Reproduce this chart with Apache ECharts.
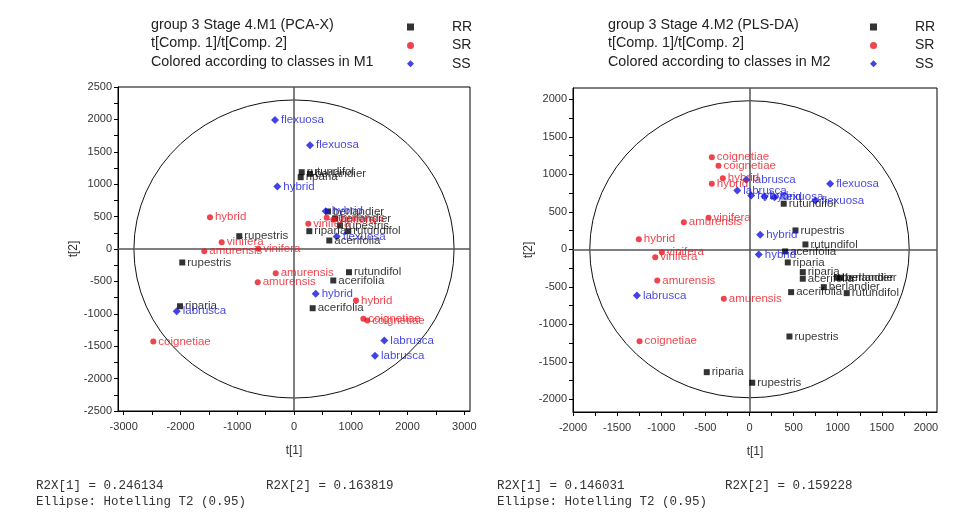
<!DOCTYPE html>
<html><head><meta charset="utf-8">
<script src="https://cdn.jsdelivr.net/npm/echarts@6/dist/echarts.min.js"></script>
<style>html,body{margin:0;padding:0;background:#fff}#c{width:966px;height:521px}</style>
</head><body><div id="c"></div><script>
// ---------- M1 (PCA-X) ----------
const m1RR_names = ['rutundifol','berlandier','riparia','berlandier','berlandier','rupestris','rupestris','rupestris','riparia','riparia','rutundifol','acerifolia','rutundifol','acerifolia','acerifolia'];
const m1RR_x = [136, 282, 118, 599, 722, 810, -964, -1968, -2008, 270, 956, 622, 969, 692, 329];
const m1RR_y = [1185, 1160, 1108, 579, 471, 363, 198, -208, -883, 275, 275, 131, -358, -486, -914];

const m1SR_names = ['hybrid','vinifera','amurensis','vinifera','amurensis','amurensis','coignetiae','vinifera','amurensis','vinifera','hybrid','coignetiae','coignetiae'];
const m1SR_x = [-1480, -1274, -1580, -629, -322, -639, -2478, 252, 576, 692, 1092, 1221, 1291];
const m1SR_y = [491, 105, -34, 3, -373, -512, -1427, 389, 481, 455, -795, -1077, -1103];

const m1SS_names = ['flexuosa','flexuosa','hybrid','hybrid','flexuosa','hybrid','labrusca','labrusca','labrusca'];
const m1SS_x = [-335, 282, -294, 558, 752, 382, 1591, 1427, -2066];
const m1SS_y = [1990, 1602, 965, 583, 193, -691, -1412, -1648, -960];

// ---------- M2 (PLS-DA) ----------
const m2RR_names = ['rutundifol','rupestris','rutundifol','acerifolia','riparia','riparia','acerifolia','berlandier','berlandier','berlandier','acerifolia','rutundifol','rupestris','riparia','rupestris'];
const m2RR_x = [388, 521, 634, 404, 434, 604, 604, 993, 1031, 842, 472, 1102, 453, -484, 31];
const m2RR_y = [607, 251, 64, -29, -176, -305, -393, -380, -380, -505, -572, -585, -1163, -1639, -1780];

const m2SR_names = ['coignetiae','coignetiae','hybrid','hybrid','vinifera','amurensis','hybrid','vinifera','vinifera','amurensis','amurensis','coignetiae'];
const m2SR_x = [-427, -351, -302, -427, -464, -744, -1254, -993, -1068, -1045, -291, -1246];
const m2SR_y = [1228, 1113, 948, 873, 420, 361, 135, -39, -105, -416, -660, -1225];

const m2SS_names = ['labrusca','labrusca','hybrid','hybrid','flexuosa','flexuosa','flexuosa','hybrid','hybrid','labrusca'];
const m2SS_x = [-37, -139, 19, 170, 283, 747, 914, 121, 105, -1276];
const m2SS_y = [927, 784, 717, 704, 695, 651, 873, 193, -69, -616];

// ---------- ticks / labels ----------
const m1XLabels = [-3000,-2000,-1000,0,1000,2000,3000];
const m1XTicks = [-3000,-2500,-2000,-1500,-1000,-500,0,500,1000,1500,2000,2500,3000];
const m1YLabels = [-2500,-2000,-1500,-1000,-500,0,500,1000,1500,2000,2500];
const m1YTicks = [-2500,-2250,-2000,-1750,-1500,-1250,-1000,-750,-500,-250,0,250,500,750,1000,1250,1500,1750,2000,2250,2500];
const m2XLabels = [-2000,-1500,-1000,-500,0,500,1000,1500,2000];
const m2XTicks = [-2000,-1750,-1500,-1250,-1000,-750,-500,-250,0,250,500,750,1000,1250,1500,1750,2000];
const m2YLabels = [-2000,-1500,-1000,-500,0,500,1000,1500,2000];
const m2YTicks = [-2000,-1750,-1500,-1250,-1000,-750,-500,-250,0,250,500,750,1000,1250,1500,1750,2000];

// Hotelling T2 ellipse semi-axes (t units)
const m1Ellipse = [2820, 2300];
const m2Ellipse = [1810, 1980];

// header / footer texts
const m1Header = ['group 3 Stage 4.M1 (PCA-X)','t[Comp. 1]/t[Comp. 2]','Colored according to classes in M1'];
const m2Header = ['group 3 Stage 4.M2 (PLS-DA)','t[Comp. 1]/t[Comp. 2]','Colored according to classes in M2'];
const m1Footer = ['R2X[1] = 0.246134','R2X[2] = 0.163819','Ellipse: Hotelling T2 (0.95)'];
const m2Footer = ['R2X[1] = 0.146031','R2X[2] = 0.159228','Ellipse: Hotelling T2 (0.95)'];

const FONT = "'Liberation Sans', Arial, sans-serif";
const MONO = "'Liberation Mono', 'DejaVu Sans Mono', monospace";
const C_RR = '#000000', C_SR = '#ea1520', C_SS = '#1414dc';

function pts(names, xs, ys){ return names.map((n,i)=>[xs[i], ys[i], n]); }

function scatter(name, data, gi, symbol, size, color){
  return {
    type:'scatter', name, xAxisIndex:gi, yAxisIndex:gi, data, symbol, symbolSize:size,
    itemStyle:{color}, z:5, emphasis:{disabled:true},
    label:{show:true, position:'right', distance:2, formatter:(p)=>p.value[2], color, fontSize:11.5, fontFamily:FONT}
  };
}

function ellipse(gi, ab){
  return {
    type:'custom', xAxisIndex:gi, yAxisIndex:gi, data:[[0,0]], silent:true, z:2,
    renderItem:(params, api)=>{
      const c = api.coord([0,0]);
      const s = api.size([ab[0], ab[1]]);
      const rx = s[0], ry = s[1];
      const d = `M ${c[0]-rx} ${c[1]} A ${rx} ${ry} 0 1 0 ${c[0]+rx} ${c[1]} A ${rx} ${ry} 0 1 0 ${c[0]-rx} ${c[1]} Z`;
      return {type:'path', shape:{pathData:d}, style:{fill:'none', stroke:'#111', lineWidth:1}};
    }
  };
}

function zeroLines(gi){
  return {
    type:'scatter', xAxisIndex:gi, yAxisIndex:gi, data:[], silent:true, z:3,
    markLine:{silent:true, symbol:['none','none'], label:{show:false},
      lineStyle:{color:'#555', width:1.5, type:'solid'}, data:[{xAxis:0},{yAxis:0}], animation:false}
  };
}

const plain = (v)=>String(v);

function xAx(gi, min, max, labels, ticks){
  return {gridIndex:gi, type:'value', min, max,
    axisLine:{show:true, onZero:false, lineStyle:{color:'#000', width:1}},
    axisTick:{show:true, length:4, customValues:ticks, lineStyle:{color:'#000'}},
    axisLabel:{customValues:labels, formatter:plain, fontSize:11, color:'#333', fontFamily:FONT, margin:10},
    splitLine:{show:false},
    name:'t[1]', nameLocation:'middle', nameGap:34, nameTextStyle:{fontSize:12, color:'#333', fontFamily:FONT}};
}
function yAx(gi, min, max, labels, ticks, gap){
  return {gridIndex:gi, type:'value', min, max,
    axisLine:{show:true, onZero:false, lineStyle:{color:'#000', width:1}},
    axisTick:{show:true, length:4, customValues:ticks, lineStyle:{color:'#000'}},
    axisLabel:{customValues:labels, formatter:plain, fontSize:11, color:'#333', fontFamily:FONT, margin:6},
    splitLine:{show:false},
    name:'t[2]', nameLocation:'middle', nameGap:gap, nameTextStyle:{fontSize:12, color:'#333', fontFamily:FONT}};
}

function legend(left){
  return {orient:'vertical', left, top:14, itemWidth:7, itemHeight:7, itemGap:2.4, selectedMode:false,
    textStyle:{fontSize:14, lineHeight:16, color:'#222', fontFamily:FONT, padding:[0,0,0,33]},
    data:[{name:'RR', icon:'rect'},{name:'SR', icon:'circle'},{name:'SS', icon:'diamond'}]};
}

const graphics = [];
[[m1Header,151],[m2Header,608]].forEach(([lines,x])=>{
  lines.forEach((t,i)=>graphics.push({type:'text', left:x, top:18+i*18.4,
    style:{text:t, font:`14.3px ${FONT}`, fill:'#222'}}));
});
[[m1Footer,36,266],[m2Footer,497,725]].forEach(([lines,x1,x2])=>{
  graphics.push({type:'text', left:x1, top:479, style:{text:lines[0], font:`12.5px ${MONO}`, fill:'#333'}});
  graphics.push({type:'text', left:x2, top:479, style:{text:lines[1], font:`12.5px ${MONO}`, fill:'#333'}});
  graphics.push({type:'text', left:x1, top:495, style:{text:lines[2], font:`12.5px ${MONO}`, fill:'#333'}});
});

const chart = echarts.init(document.getElementById('c'), null, {renderer:'canvas'});
chart.setOption({
  animation:false,
  backgroundColor:'#fff',
  textStyle:{fontFamily:FONT},
  legend:[legend(402), legend(865)],
  grid:[
    {left:118, top:87, width:352, height:324, show:true, borderColor:'#000', borderWidth:1},
    {left:573, top:88, width:364, height:324, show:true, borderColor:'#000', borderWidth:1}
  ],
  xAxis:[xAx(0,-3100,3100,m1XLabels,m1XTicks), xAx(1,-2000,2125,m2XLabels,m2XTicks)],
  yAxis:[yAx(0,-2500,2500,m1YLabels,m1YTicks,28), yAx(1,-2170,2150,m2YLabels,m2YTicks,27)],
  graphic:graphics,
  series:[
    ellipse(0, m1Ellipse), zeroLines(0),
    scatter('RR', pts(m1RR_names,m1RR_x,m1RR_y), 0, 'rect', 6, C_RR),
    scatter('SR', pts(m1SR_names,m1SR_x,m1SR_y), 0, 'circle', 6, C_SR),
    scatter('SS', pts(m1SS_names,m1SS_x,m1SS_y), 0, 'diamond', 8, C_SS),
    ellipse(1, m2Ellipse), zeroLines(1),
    scatter('RR', pts(m2RR_names,m2RR_x,m2RR_y), 1, 'rect', 6, C_RR),
    scatter('SR', pts(m2SR_names,m2SR_x,m2SR_y), 1, 'circle', 6, C_SR),
    scatter('SS', pts(m2SS_names,m2SS_x,m2SS_y), 1, 'diamond', 8, C_SS)
  ]
});
</script></body></html>
